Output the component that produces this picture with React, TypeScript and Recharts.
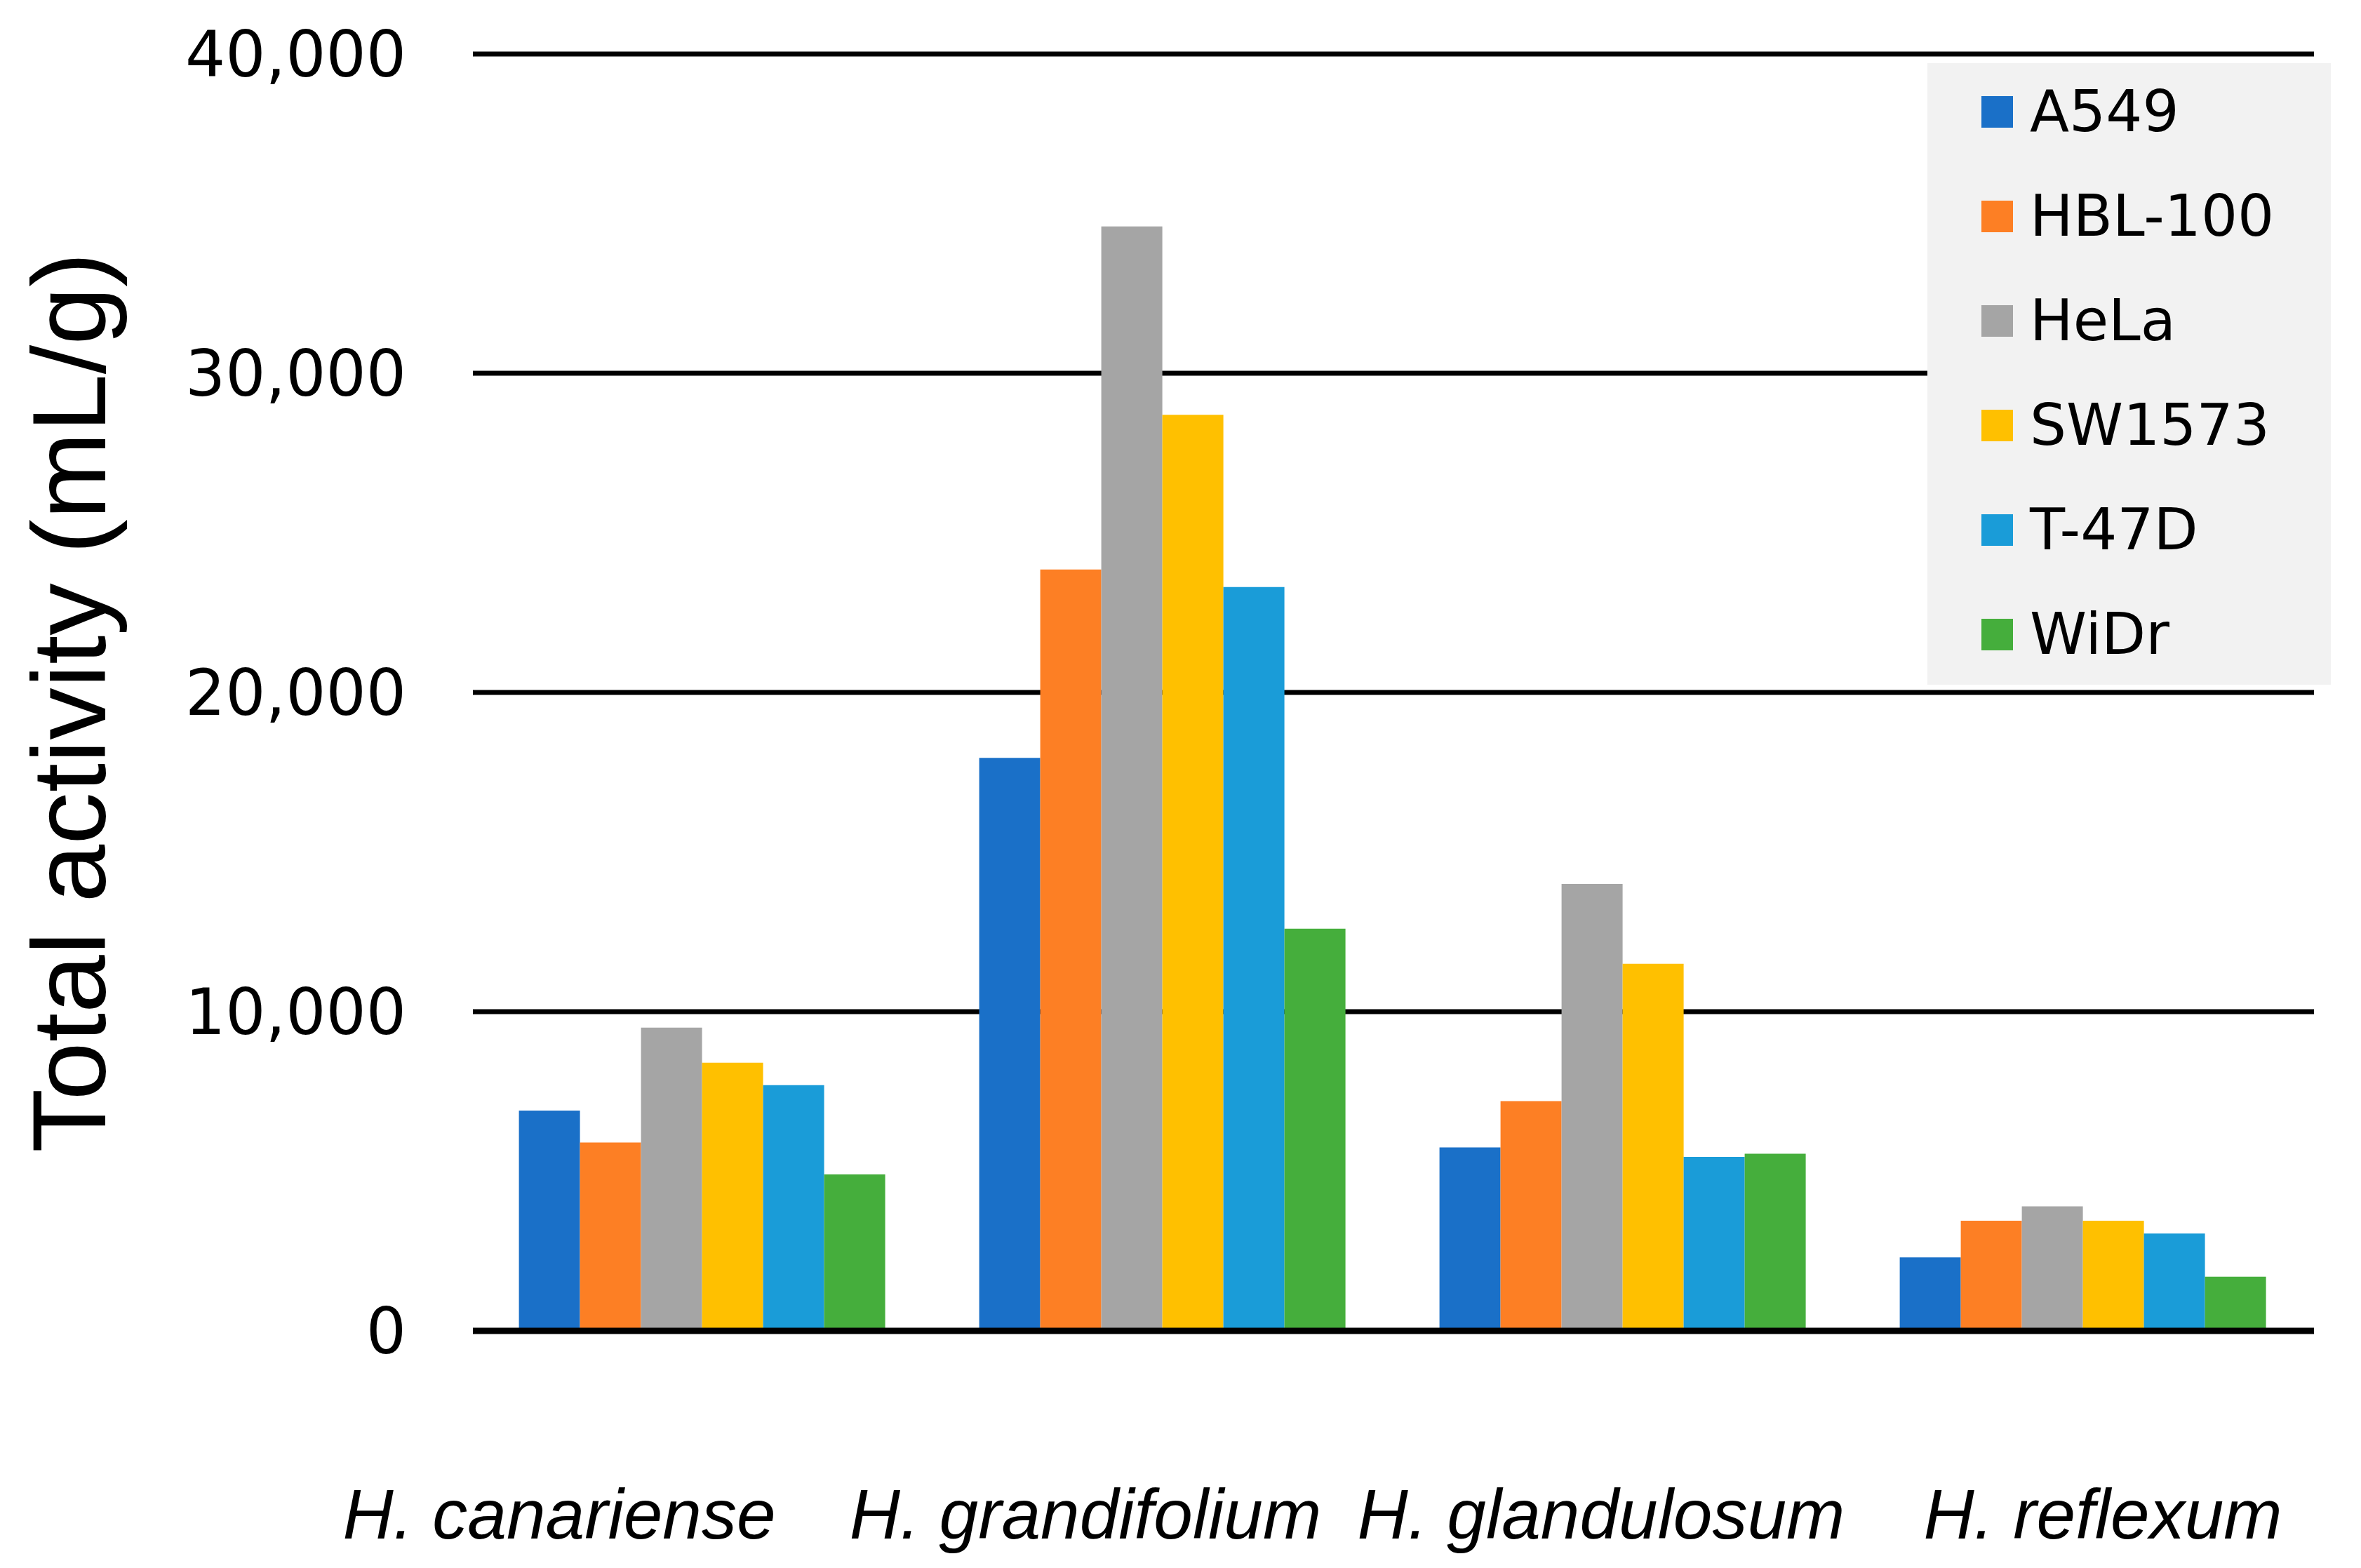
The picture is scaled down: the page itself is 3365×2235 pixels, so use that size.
import React from 'react';
import { BarChart, Bar, XAxis, YAxis, CartesianGrid, Legend } from 'recharts';

const categories = ['H. canariense', 'H. grandifolium', 'H. glandulosum', 'H. reflexum'];
const seriesNames = ['A549', 'HBL-100', 'HeLa', 'SW1573', 'T-47D', 'WiDr'];
const a549 = [6900, 17950, 5750, 2300];
const hbl100 = [5900, 23850, 7200, 3450];
const hela = [9500, 34600, 14000, 3900];
const sw1573 = [8400, 28700, 11500, 3450];
const t47d = [7700, 23300, 5450, 3050];
const widr = [4900, 12600, 5550, 1700];
const yTicks = [0, 10000, 20000, 30000, 40000];
const colors = ['#1a70c8', '#fd7f24', '#a5a5a5', '#ffc000', '#1a9cd8', '#45ae3c'];

const seriesValues = [a549, hbl100, hela, sw1573, t47d, widr];
const data = categories.map((c, i) => {
  const row: any = { category: c };
  seriesNames.forEach((s, j) => {
    row[s] = seriesValues[j][i];
  });
  return row;
});

const LABEL_SHIFT = [-205, -111, -32, 27];

const XTick = (props: any) => {
  const { x, y, payload } = props;
  const idx = props.index ?? payload.index ?? 0;
  return (
    <text
      x={x + LABEL_SHIFT[idx]}
      y={y + 296}
      textAnchor="middle"
      fontFamily="'Liberation Sans', Arial, sans-serif"
      fontStyle="italic"
      fontSize={100}
      fill="#000"
    >
      {payload.value}
    </text>
  );
};

const LegendBox = (props: any) => {
  const payload = props.payload || [];
  return (
    <div style={{ position: 'relative', width: 575, height: 886, background: '#f2f2f2' }}>
      {payload.map((p: any, i: number) => (
        <div
          key={p.value}
          style={{
            position: 'absolute',
            left: 77,
            top: 19 + i * 149,
            height: 100,
            display: 'flex',
            alignItems: 'center',
          }}
        >
          <div style={{ width: 45, height: 45, background: p.color, marginRight: 24 }} />
          <span
            style={{
              fontFamily: "'DejaVu Sans', Verdana, sans-serif",
              fontSize: 82,
              lineHeight: 1,
              color: '#000',
              whiteSpace: 'nowrap',
            }}
          >
            {p.value}
          </span>
        </div>
      ))}
    </div>
  );
};

const YLabel = () => (
  <text
    x={142}
    y={993}
    transform="rotate(-90 142 993)"
    textAnchor="middle"
    fontFamily="'Liberation Sans', Arial, sans-serif"
    fontSize={149}
    fill="#000"
  >
    Total activity (mL/g)
  </text>
);

export default function App() {
  return (
    <div style={{ width: 3357, height: 2219 }}>
      <BarChart
        width={3357}
        height={2219}
        data={data}
        margin={{ top: 69, right: 67, bottom: 0, left: 0 }}
        barCategoryGap="10%"
        barGap={0}
      >
        <CartesianGrid vertical={false} stroke="#000" strokeWidth={7} />
        <XAxis
          dataKey="category"
          tickLine={false}
          axisLine={{ stroke: '#000', strokeWidth: 9 }}
          tickSize={0}
          tickMargin={0}
          interval={0}
          height={330}
          tick={<XTick />}
        />
        <YAxis
          domain={[0, 40000]}
          ticks={yTicks}
          axisLine={false}
          tickLine={false}
          tickSize={0}
          tickMargin={95}
          width={666}
          tickFormatter={(v: number) => v.toLocaleString('en-US')}
          tick={{ fontFamily: "'DejaVu Sans', Verdana, sans-serif", fontSize: 90, fill: '#000' }}
          label={{ content: () => <YLabel /> }}
        />
        <Legend
          layout="vertical"
          align="center"
          verticalAlign="middle"
          wrapperStyle={{ position: 'absolute', left: 2739, top: 82, width: 575, height: 886 }}
          content={<LegendBox />}
        />
        {seriesNames.map((s, i) => (
          <Bar key={s} dataKey={s} fill={colors[i]} isAnimationActive={false} />
        ))}
      </BarChart>
    </div>
  );
}
